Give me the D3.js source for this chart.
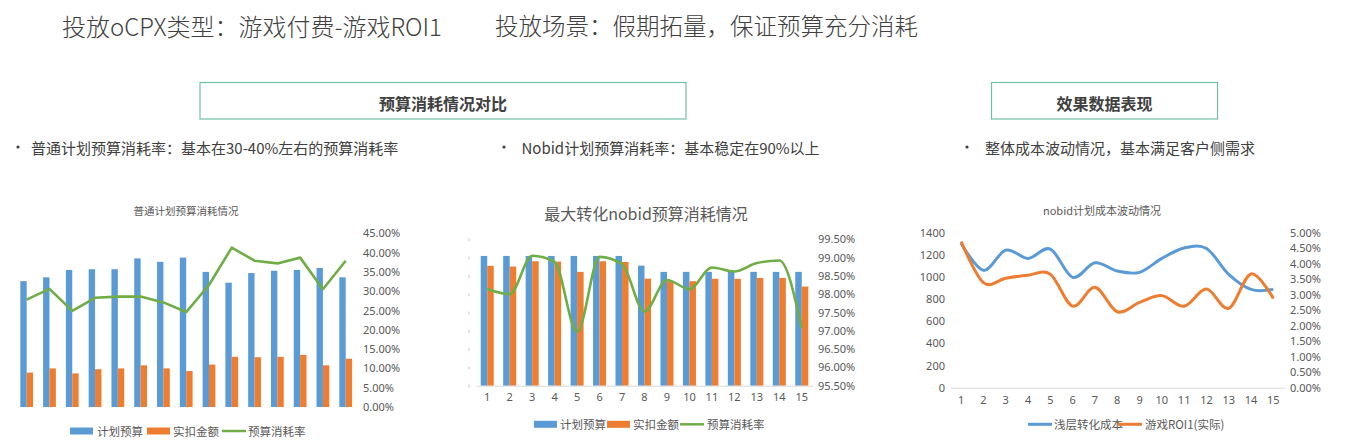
<!DOCTYPE html>
<html><head><meta charset="utf-8">
<script src="https://cdn.jsdelivr.net/npm/d3@7/dist/d3.min.js"></script>
<style>
html,body{margin:0;padding:0;background:#fff;}
svg{display:block;font-family:"Noto Sans CJK SC","Noto Sans",sans-serif;}
</style></head>
<body>
<svg id="c" width="1345" height="446"></svg>
<script>
// ---------- DATA ----------
const days = [1,2,3,4,5,6,7,8,9,10,11,12,13,14,15];

// chart 1: 普通计划预算消耗情况
const normalBudget = [32600,33600,35500,35700,35700,38500,37600,38700,35000,32200,34700,35300,35500,36000,33600];
const normalSpend  = [8900,10000,8700,9800,10000,10800,10000,9300,11000,13000,12900,13000,13500,10800,12500];
const normalRate   = [0.278,0.306,0.249,0.283,0.286,0.286,0.271,0.246,0.316,0.413,0.379,0.372,0.387,0.305,0.379];
const normalRateTicks = [0,0.05,0.10,0.15,0.20,0.25,0.30,0.35,0.40,0.45];

// chart 2: 最大转化nobid预算消耗情况
const nobidBudget = [7090,7090,7090,7090,7090,7090,7090,6560,6220,6220,6220,6220,6220,6220,6220];
const nobidSpend  = [6550,6510,6800,6780,6220,6800,6760,5850,5710,5710,5840,5840,5890,5890,5420];
const nobidRate   = [0.9814,0.9800,0.9905,0.9888,0.9697,0.9902,0.9882,0.9753,0.9839,0.9814,0.9873,0.9862,0.9885,0.9892,0.9707];
const nobidRateTicks = [0.955,0.960,0.965,0.970,0.975,0.980,0.985,0.990,0.995];

// chart 3: nobid计划成本波动情况
const shallowCost = [1303,1060,1243,1168,1252,997,1129,1054,1042,1168,1262,1258,1024,888,888];
const gameRoi     = [0.0471,0.0339,0.0353,0.0363,0.0366,0.0263,0.0324,0.0245,0.0275,0.0297,0.0263,0.0318,0.0256,0.0367,0.0288];
const costTicks = [0,200,400,600,800,1000,1200,1400];
const roiTicks  = [0,0.005,0.01,0.015,0.02,0.025,0.03,0.035,0.04,0.045,0.05];

const legend1 = ["计划预算","实扣金额","预算消耗率"];
const legend3 = ["浅层转化成本","游戏ROI1(实际)"];

// ---------- STYLE ----------
const BLUE="#5B9BD5", ORANGE="#ED7D31", GREEN="#70AD47", AX="#595959", BOX="#6DC3A4";
const svg = d3.select("#c");

// ---------- HEADER ----------
svg.append("text").attr("x",62).attr("y",25).attr("dominant-baseline","central")
  .attr("font-size",24).attr("font-weight",300).attr("fill","#404040").text("投放oCPX类型：游戏付费-游戏ROI1");
svg.append("text").attr("x",495).attr("y",25).attr("dominant-baseline","central")
  .attr("font-size",23.5).attr("font-weight",300).attr("fill","#404040").text("投放场景：假期拓量，保证预算充分消耗");

function box(x0,x1,label){
  svg.append("rect").attr("x",x0).attr("y",82.5).attr("width",x1-x0).attr("height",36.5)
    .attr("fill","none").attr("stroke",BOX).attr("stroke-width",1.2);
  svg.append("text").attr("x",(x0+x1)/2).attr("y",103).attr("text-anchor","middle")
    .attr("dominant-baseline","central").attr("font-size",16).attr("font-weight",700)
    .attr("fill","#404040").text(label);
}
box(200,686,"预算消耗情况对比");
box(991.5,1217.5,"效果数据表现");

function bullet(xb,xt,label){
  svg.append("circle").attr("cx",xb).attr("cy",147).attr("r",1.6).attr("fill","#404040");
  svg.append("text").attr("x",xt).attr("y",147).attr("dominant-baseline","central")
    .attr("font-size",15).attr("fill","#404040").text(label);
}
bullet(18,31,"普通计划预算消耗率：基本在30-40%左右的预算消耗率");
bullet(504,521.5,"Nobid计划预算消耗率：基本稳定在90%以上");
bullet(967,985,"整体成本波动情况，基本满足客户侧需求");

function styleAxis(g){
  g.select(".domain").remove();
  g.selectAll("text").attr("fill",AX).attr("font-size",11).attr("font-family","'Noto Sans','Noto Sans CJK SC',sans-serif");
}

function legendItems(items, y){
  items.forEach(it=>{
    if(it.type==="rect"){
      svg.append("rect").attr("x",it.x).attr("y",y-3.5).attr("width",23).attr("height",7).attr("fill",it.color);
    } else {
      svg.append("line").attr("x1",it.x).attr("x2",it.x+24).attr("y1",y).attr("y2",y)
        .attr("stroke",it.color).attr("stroke-width",it.w||2.5);
    }
    svg.append("text").attr("x",it.tx).attr("y",y).attr("dominant-baseline","central")
      .attr("font-size",11.5).attr("fill",AX).text(it.label);
  });
}

// ---------- CHART 1 ----------
(function(){
  const x = d3.scaleBand().domain(days).range([15.3,357.1]).paddingInner(0.44).paddingOuter(0.22);
  const yL = d3.scaleLinear().domain([0,45000]).range([407,233.3]);
  const yR = d3.scaleLinear().domain([0,0.45]).range([407,233.3]);
  const bw = x.bandwidth()/2;
  const g = svg.append("g");
  g.selectAll(".b").data(days).join("rect")
    .attr("x",d=>x(d)).attr("width",bw)
    .attr("y",(d,i)=>yL(normalBudget[i])).attr("height",(d,i)=>yL(0)-yL(normalBudget[i])).attr("fill",BLUE);
  g.selectAll(".o").data(days).join("rect")
    .attr("x",d=>x(d)+bw).attr("width",bw)
    .attr("y",(d,i)=>yL(normalSpend[i])).attr("height",(d,i)=>yL(0)-yL(normalSpend[i])).attr("fill",ORANGE);
  const line = d3.line().x((d,i)=>x(days[i])+bw).y(d=>yR(d));
  g.append("path").attr("d",line(normalRate)).attr("fill","none").attr("stroke",GREEN)
    .attr("stroke-width",2.6).attr("stroke-linejoin","round");
  const ax = svg.append("g").attr("transform","translate(360,0)")
    .call(d3.axisRight(yR).tickValues(normalRateTicks).tickFormat(d3.format(".2%")).tickSize(0).tickPadding(3));
  styleAxis(ax);
  svg.append("text").attr("x",186).attr("y",210).attr("text-anchor","middle").attr("dominant-baseline","central")
    .attr("font-size",10.5).attr("fill",AX).text("普通计划预算消耗情况");
  legendItems([
    {type:"rect",x:70,tx:97,color:BLUE,label:legend1[0]},
    {type:"rect",x:147,tx:173,color:ORANGE,label:legend1[1]},
    {type:"line",x:222,tx:248,color:GREEN,label:legend1[2]}
  ],431);
})();

// ---------- CHART 2 ----------
(function(){
  const x = d3.scaleBand().domain(days).range([476,813]).paddingInner(0.42).paddingOuter(0.21);
  const yL = d3.scaleLinear().domain([0,8000]).range([385.7,239.3]);
  const yR = d3.scaleLinear().domain([0.955,0.995]).range([385.7,239.3]);
  const bw = x.bandwidth()/2;
  const g = svg.append("g");
  // hidden left axis: only faint tick marks remain
  const la = svg.append("g").attr("transform","translate(469,0)")
    .call(d3.axisLeft(yL).tickValues(d3.range(0,8001,1000)).tickFormat("").tickSize(0));
  la.select(".domain").remove();
  la.selectAll(".tick").append("line").attr("y1",-1.5).attr("y2",1.5).attr("stroke","#c8c8c8").attr("stroke-width",1);
  g.selectAll(".b").data(days).join("rect")
    .attr("x",d=>x(d)).attr("width",bw)
    .attr("y",(d,i)=>yL(nobidBudget[i])).attr("height",(d,i)=>yL(0)-yL(nobidBudget[i])).attr("fill",BLUE);
  g.selectAll(".o").data(days).join("rect")
    .attr("x",d=>x(d)+bw).attr("width",bw)
    .attr("y",(d,i)=>yL(nobidSpend[i])).attr("height",(d,i)=>yL(0)-yL(nobidSpend[i])).attr("fill",ORANGE);
  const xa = svg.append("g").attr("transform","translate(0,385.7)")
    .call(d3.axisBottom(x).tickSize(0).tickSizeOuter(0).tickPadding(8));
  xa.select(".domain").attr("stroke","#d9d9d9");
  xa.selectAll("text").attr("fill",AX).attr("font-size",11).attr("font-family","'Noto Sans',sans-serif");
  const line = d3.line().x((d,i)=>x(days[i])+bw).y(d=>yR(d)).curve(d3.curveMonotoneX);
  g.append("path").attr("d",line(nobidRate)).attr("fill","none").attr("stroke",GREEN)
    .attr("stroke-width",2.6).attr("stroke-linejoin","round");
  const ax = svg.append("g").attr("transform","translate(815,0)")
    .call(d3.axisRight(yR).tickValues(nobidRateTicks).tickFormat(d3.format(".2%")).tickSize(0).tickPadding(3));
  styleAxis(ax);
  svg.append("text").attr("x",646).attr("y",213).attr("text-anchor","middle").attr("dominant-baseline","central")
    .attr("font-size",16).attr("fill",AX).text("最大转化nobid预算消耗情况");
  legendItems([
    {type:"rect",x:534,tx:560,color:BLUE,label:legend1[0]},
    {type:"rect",x:607,tx:633,color:ORANGE,label:legend1[1]},
    {type:"line",x:680,tx:707,color:GREEN,label:legend1[2]}
  ],424.3);
})();

// ---------- CHART 3 ----------
(function(){
  const x = d3.scaleBand().domain(days).range([950,1284.5]);
  const yL = d3.scaleLinear().domain([0,1400]).range([387.7,232.7]);
  const yR = d3.scaleLinear().domain([0,0.05]).range([387.7,232.7]);
  const cx = d=>x(d)+x.bandwidth()/2;
  const xa = svg.append("g").attr("transform","translate(0,387.7)")
    .call(d3.axisBottom(x).tickSize(0).tickSizeOuter(0).tickPadding(9));
  xa.select(".domain").attr("stroke","#d9d9d9");
  xa.selectAll("text").attr("fill",AX).attr("font-size",11).attr("font-family","'Noto Sans',sans-serif");
  const al = svg.append("g").attr("transform","translate(948,0)")
    .call(d3.axisLeft(yL).tickValues(costTicks).tickFormat(d3.format("d")).tickSize(0).tickPadding(3));
  styleAxis(al);
  const ar = svg.append("g").attr("transform","translate(1287,0)")
    .call(d3.axisRight(yR).tickValues(roiTicks).tickFormat(d3.format(".2%")).tickSize(0).tickPadding(3));
  styleAxis(ar);
  const l1 = d3.line().x((d,i)=>cx(days[i])).y(d=>yL(d)).curve(d3.curveCatmullRom.alpha(0));
  const l2 = d3.line().x((d,i)=>cx(days[i])).y(d=>yR(d)).curve(d3.curveCatmullRom.alpha(0));
  svg.append("path").attr("d",l1(shallowCost)).attr("fill","none").attr("stroke",BLUE).attr("stroke-width",3);
  svg.append("path").attr("d",l2(gameRoi)).attr("fill","none").attr("stroke",ORANGE).attr("stroke-width",3);
  svg.append("text").attr("x",1102).attr("y",210).attr("text-anchor","middle").attr("dominant-baseline","central")
    .attr("font-size",11).attr("fill",AX).text("nobid计划成本波动情况");
  legendItems([
    {type:"line",x:1028,tx:1054,color:BLUE,label:legend3[0],w:3},
    {type:"line",x:1118,tx:1145,color:ORANGE,label:legend3[1],w:3}
  ],424.3);
})();
</script>
</body></html>
